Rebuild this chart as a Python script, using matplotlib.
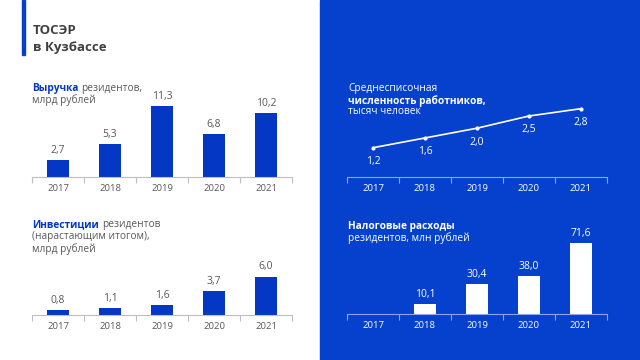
import matplotlib
matplotlib.use("Agg")
import matplotlib.pyplot as plt
from matplotlib.patches import Rectangle

years = ["2017", "2018", "2019", "2020", "2021"]
revenue = [2.7, 5.3, 11.3, 6.8, 10.2]
investments = [0.8, 1.1, 1.6, 3.7, 6.0]
employees = [1.2, 1.6, 2.0, 2.5, 2.8]
tax_years = ["2018", "2019", "2020", "2021"]
tax_expenses = [10.1, 30.4, 38.0, 71.6]

BLUE = "#0541cc"
BAR = "#0337c4"
GREY = "#595959"
W, H = 640, 360
FS = 7.3

plt.rcParams['font.family'] = ['Open Sans', 'DejaVu Sans']

fig = plt.figure(figsize=(6.4, 3.6), dpi=100)
fig.patch.set_facecolor("white")
renderer = fig.canvas.get_renderer()

# right blue panel + left accent bar
fig.patches.append(Rectangle((320 / W, 0), 320 / W, 1, transform=fig.transFigure,
                             color=BLUE, zorder=-5))
fig.patches.append(Rectangle((22 / W, 1 - 55 / H), 3 / W, 55 / H, transform=fig.transFigure,
                             color=BLUE, zorder=-5))

fig.text(33 / W, 1 - 30 / H, "ТОСЭР", fontsize=9.5, fontweight="bold", color="#404040", va="center")
fig.text(33 / W, 1 - 47 / H, "в Кузбассе", fontsize=9.5, fontweight="bold", color="#404040", va="center")


def line(x, y, parts):
    # parts: list of (text, color, weight) written one after another
    for txt, col, wt in parts:
        t = fig.text(x / W, 1 - y / H, txt, fontsize=FS, fontweight=wt, color=col, va="center")
        x += t.get_window_extent(renderer).width + 3


def px_axes(x0, x1, y_axis, y_top):
    ax = fig.add_axes([x0 / W, 1 - y_axis / H, (x1 - x0) / W, (y_axis - y_top) / H])
    ax.set_zorder(2)
    return ax


def style_axis(ax, color, tcolor, n):
    ax.set_facecolor("none")
    for s in ["top", "right", "left"]:
        ax.spines[s].set_visible(False)
    ax.spines["bottom"].set_color(color)
    ax.spines["bottom"].set_linewidth(0.8)
    ax.set_xlim(-0.5, n - 0.5)
    ax.set_yticks([])
    ax.set_xticks(range(n))
    ax.set_xticklabels(years, fontsize=6.8, color=tcolor)
    ax.tick_params(axis="x", which="major", length=0, pad=5)
    ax.set_xticks([i - 0.5 for i in range(n + 1)], minor=True)
    ax.tick_params(axis="x", which="minor", length=4, color=color, width=0.8)


def fmt(v):
    return f"{v:.1f}".replace(".", ",")


def bar_labels(ax, xs, vals, color):
    for i, v in zip(xs, vals):
        ax.annotate(fmt(v), (i, v), xytext=(0, 3), textcoords="offset points",
                    ha="center", va="bottom", fontsize=7.5, color=color)


# revenue
ax1 = px_axes(32, 292, 177, 95)
ax1.bar(range(5), revenue, width=0.42, color=BAR)
ax1.set_ylim(0, 82 / 6.28)
bar_labels(ax1, range(5), revenue, GREY)
style_axis(ax1, "#bfbfbf", GREY, 5)
line(32, 89, [("Выручка", BAR, "bold"), ("резидентов,", GREY, "normal")])
line(32, 100, [("млрд рублей", GREY, "normal")])

# investments
ax2 = px_axes(32, 292, 315, 265)
ax2.bar(range(5), investments, width=0.42, color=BAR)
ax2.set_ylim(0, 50 / 6.4)
bar_labels(ax2, range(5), investments, GREY)
style_axis(ax2, "#bfbfbf", GREY, 5)
line(32, 225, [("Инвестиции", BAR, "bold"), ("резидентов", GREY, "normal")])
line(32, 237, [("(нарастающим итогом),", GREY, "normal")])
line(32, 249, [("млрд рублей", GREY, "normal")])

# employees (line)
ax3 = px_axes(347, 607, 177, 95)
ax3.plot(range(5), employees, color="white", lw=1.2, marker="o", markersize=2)
ax3.set_ylim(0, 82 / 24.4)
for i, v in enumerate(employees):
    ax3.annotate(fmt(v), (i, v), xytext=(0, -10), textcoords="offset points",
                 ha="center", va="center", fontsize=7.5, color="white")
style_axis(ax3, "#8fa6e8", "white", 5)
line(348, 89, [("Среднесписочная", "white", "normal")])
line(348, 101, [("численность работников,", "white", "bold")])
line(348, 112, [("тысяч человек", "white", "normal")])

# tax expenses
ax4 = px_axes(347, 607, 314, 230)
ax4.bar([years.index(y) for y in tax_years], tax_expenses, width=0.42, color="white")
ax4.set_ylim(0, 84 / 0.99)
bar_labels(ax4, [years.index(y) for y in tax_years], tax_expenses, "white")
style_axis(ax4, "#8fa6e8", "white", 5)
line(348, 226, [("Налоговые расходы", "white", "bold")])
line(348, 238, [("резидентов, млн рублей", "white", "normal")])

fig.savefig("out.png", dpi=100)
